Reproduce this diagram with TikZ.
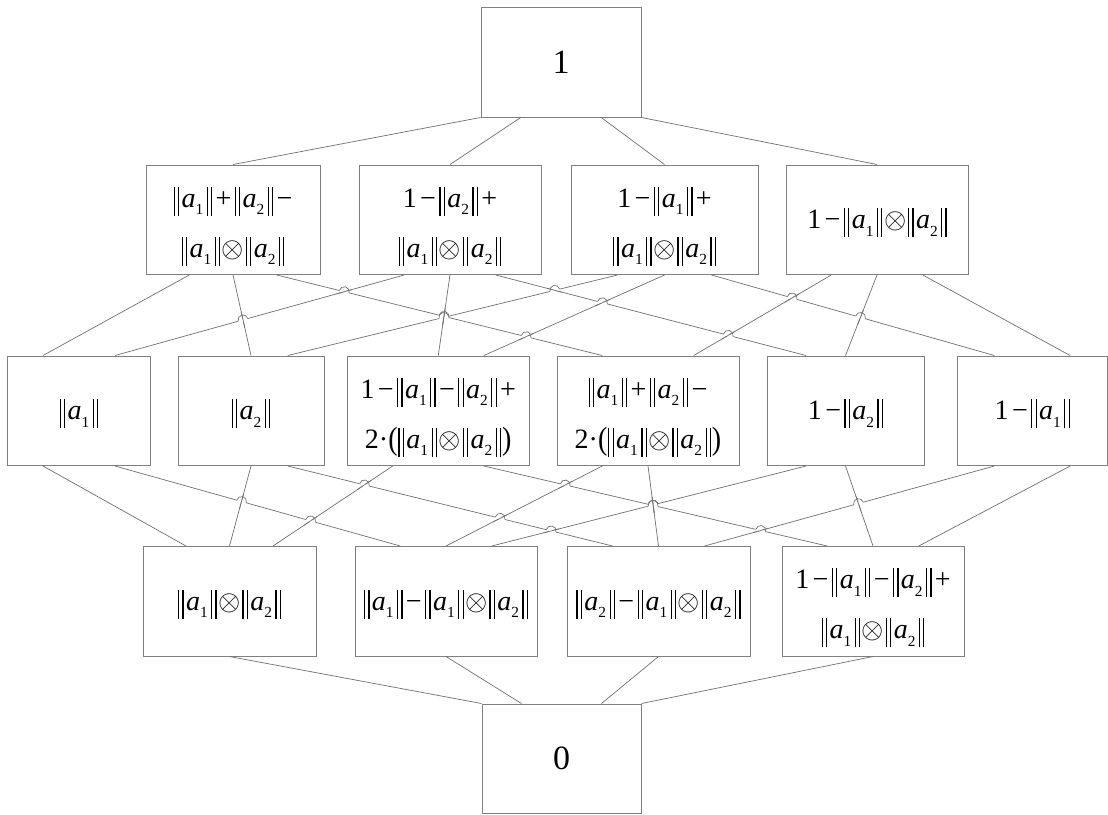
\documentclass[tikz,border=0pt]{standalone}
\usepackage{fontspec}
\setmainfont{Liberation Serif}
\usepackage{graphicx}
\usetikzlibrary{calc}

\definecolor{boxgray}{HTML}{808080}
\definecolor{linegray}{HTML}{707070}

% norm bars, norms and operators
\newcommand\dbar{\rule[-0.3em]{0.045em}{1.04em}\hspace{0.11em}\rule[-0.3em]{0.045em}{1.04em}}
\newcommand\nv[1]{\dbar\hspace{0.085em}\textit{a}\raisebox{-0.26em}{\scalebox{0.55}{#1}}\hspace{0.12em}\dbar}
\newcommand\op[1]{\hspace{0.12em}#1\hspace{0.12em}}
\newcommand\otm{\hspace{0.06em}\scalebox{1.15}{$\otimes$}\hspace{0.06em}}
\newcommand\lpar{\raisebox{-0.05em}{\scalebox{1}[1.15]{(}}\hspace{0.03em}}
\newcommand\rpar{\hspace{0.03em}\raisebox{-0.05em}{\scalebox{1}[1.15]{)}}}

% boxes: name, left, top, width, height (top-down pixel measures)
\newcommand\bx[5]{\node[box,minimum width=#4pt,minimum height=#5pt] (#1) at (#2+#4/2,-#3-#5/2) {};}
% connector from the bottom of #1 (fraction #2) to the top of #3 (fraction #4)
\newcommand\conn[4]{\draw[conn] ($(#1.south west)!#2!(#1.south east)$) -- ($(#3.north west)!#4!(#3.north east)$);}

% line jumps: the first connector hops over the second one
\def\hr{5pt}
\newcommand\hop[8]{%
  \coordinate (hP) at ($(#1.south west)!#2!(#1.south east)$);
  \coordinate (hQ) at ($(#3.north west)!#4!(#3.north east)$);
  \coordinate (hR) at ($(#5.south west)!#6!(#5.south east)$);
  \coordinate (hS) at ($(#7.north west)!#8!(#7.north east)$);
  \coordinate (hX) at (intersection of hP--hQ and hR--hS);
  \hopdo}
\newcommand\hopcut{\draw[cut] let \p1=($(hQ)-(hP)$), \n1={atan(\y1/\x1)} in
  ($(hX)+(\n1+180:\hr)$) -- ($(hX)+(\n1:\hr)$);}
\newcommand\hopfix{\draw[conn] ($(hX)!8pt!(hR)$) -- ($(hX)!8pt!(hS)$);}
\newcommand\hoparc{\draw[conn] let \p1=($(hQ)-(hP)$), \n1={atan(\y1/\x1)} in
  ($(hX)+(\n1+180:\hr)$) arc[start angle=\n1+180, end angle=\n1, radius=\hr];}
\newcommand\hoplist{%
  % upper band
  \hop{B}{.25}{E}{.75}{A}{.5}{F}{.5}%
  \hop{A}{.75}{H}{.25}{B}{.25}{E}{.75}%
  \hop{A}{.75}{H}{.25}{B}{.5}{G}{.5}%
  \hop{C}{.25}{F}{.75}{B}{.5}{G}{.5}%
  \hop{A}{.75}{H}{.25}{C}{.5}{G}{.75}%
  \hop{C}{.25}{F}{.75}{B}{.75}{I}{.25}%
  \hop{B}{.75}{I}{.25}{C}{.5}{G}{.75}%
  \hop{B}{.75}{I}{.25}{D}{.25}{H}{.75}%
  \hop{C}{.75}{J}{.25}{D}{.25}{H}{.75}%
  \hop{C}{.75}{J}{.25}{D}{.5}{I}{.5}%
  % lower band
  \hop{E}{.75}{L}{.25}{F}{.5}{K}{.5}%
  \hop{E}{.75}{L}{.25}{G}{.25}{K}{.75}%
  \hop{F}{.75}{M}{.25}{G}{.25}{K}{.75}%
  \hop{F}{.75}{M}{.25}{H}{.25}{L}{.5}%
  \hop{F}{.75}{M}{.25}{I}{.25}{L}{.75}%
  \hop{G}{.75}{N}{.25}{H}{.25}{L}{.5}%
  \hop{G}{.75}{N}{.25}{H}{.5}{M}{.5}%
  \hop{I}{.25}{L}{.75}{H}{.5}{M}{.5}%
  \hop{G}{.75}{N}{.25}{J}{.25}{M}{.75}%
  \hop{J}{.25}{M}{.75}{I}{.5}{N}{.5}%
}

\tikzset{
  box/.style={draw=boxgray,line width=1pt,inner sep=0pt,fill=white},
  conn/.style={draw=linegray,line width=0.7pt},
  cut/.style={draw=white,line width=2.2pt},
  lbl/.style={inner sep=0pt,align=center,font=\fontsize{28}{50}\selectfont},
  lbltwo/.style={lbl,yshift=-6.5pt},
  lblone/.style={lbl,yshift=-3pt},
  lblbig/.style={inner sep=0pt,font=\fontsize{34}{40}\selectfont},
}

\begin{document}
\begin{tikzpicture}[x=1pt,y=1pt]
\fill[white] (0,0) rectangle (1108,-814);
\useasboundingbox (0,0) rectangle (1108,-814);

% boxes
\bx{T}{481}{7}{160}{110}
\bx{A}{146}{165}{174}{109.5}
\bx{B}{359}{165}{182}{109.5}
\bx{C}{571}{165}{187}{109.5}
\bx{D}{786}{165}{182}{109.5}
\bx{E}{7.5}{356}{143}{109.5}
\bx{F}{178}{356}{146}{109.5}
\bx{G}{347.5}{356}{181.5}{109.5}
\bx{H}{557}{356}{182}{109.5}
\bx{I}{767}{356}{157}{109.5}
\bx{J}{957}{356}{150.5}{109.5}
\bx{K}{143}{546.5}{173}{109.5}
\bx{L}{355}{546.5}{182}{109.5}
\bx{M}{567}{546.5}{183}{109.5}
\bx{N}{782}{546.5}{182}{109.5}
\bx{Z}{482}{704}{159}{109.5}

% texts
\node[lblbig] (tT) at (T.center) {1};
\node[lbltwo] (tA) at (A.center) {\nv1\op{+}\nv2\op{−}\\\nv1\otm\nv2};
\node[lbltwo] (tB) at (B.center) {1\op{−}\nv2\op{+}\\\nv1\otm\nv2};
\node[lbltwo] (tC) at (C.center) {1\op{−}\nv1\op{+}\\\nv1\otm\nv2};
\node[lblone] (tD) at (D.center) {1\op{−}\nv1\otm\nv2};
\node[lblone] (tE) at (E.center) {\nv1};
\node[lblone] (tF) at (F.center) {\nv2};
\node[lbltwo] (tG) at (G.center) {1\op{−}\nv1\op{−}\nv2\op{+}\\2·\lpar\nv1\otm\nv2\rpar};
\node[lbltwo] (tH) at (H.center) {\nv1\op{+}\nv2\op{−}\\2·\lpar\nv1\otm\nv2\rpar};
\node[lblone] (tI) at (I.center) {1\op{−}\nv2};
\node[lblone] (tJ) at (J.center) {1\op{−}\nv1};
\node[lblone] (tK) at (K.center) {\nv1\otm\nv2};
\node[lblone] (tL) at (L.center) {\nv1\op{−}\nv1\otm\nv2};
\node[lblone] (tM) at (M.center) {\nv2\op{−}\nv1\otm\nv2};
\node[lbltwo] (tN) at (N.center) {1\op{−}\nv1\op{−}\nv2\op{+}\\\nv1\otm\nv2};
\node[lblbig] (tZ) at (Z.center) {0};

% top to second row
\conn{T}{0}{A}{.5}
\conn{T}{.25}{B}{.5}
\conn{T}{.75}{C}{.5}
\conn{T}{1}{D}{.5}
% second row to middle row
\conn{A}{.25}{E}{.25}
\conn{A}{.5}{F}{.5}
\conn{A}{.75}{H}{.25}
\conn{B}{.25}{E}{.75}
\conn{B}{.5}{G}{.5}
\conn{B}{.75}{I}{.25}
\conn{C}{.25}{F}{.75}
\conn{C}{.5}{G}{.75}
\conn{C}{.75}{J}{.25}
\conn{D}{.25}{H}{.75}
\conn{D}{.5}{I}{.5}
\conn{D}{.75}{J}{.75}
% middle row to fourth row
\conn{E}{.25}{K}{.25}
\conn{E}{.75}{L}{.25}
\conn{F}{.5}{K}{.5}
\conn{F}{.75}{M}{.25}
\conn{G}{.25}{K}{.75}
\conn{G}{.75}{N}{.25}
\conn{H}{.25}{L}{.5}
\conn{H}{.5}{M}{.5}
\conn{I}{.25}{L}{.75}
\conn{I}{.5}{N}{.5}
\conn{J}{.25}{M}{.75}
\conn{J}{.75}{N}{.75}
% fourth row to bottom
\conn{K}{.5}{Z}{0}
\conn{L}{.5}{Z}{.25}
\conn{M}{.5}{Z}{.75}
\conn{N}{.5}{Z}{1}

% line jumps
\let\hopdo\hopcut \hoplist
\let\hopdo\hopfix \hoplist
\let\hopdo\hoparc \hoplist
\end{tikzpicture}
\end{document}
